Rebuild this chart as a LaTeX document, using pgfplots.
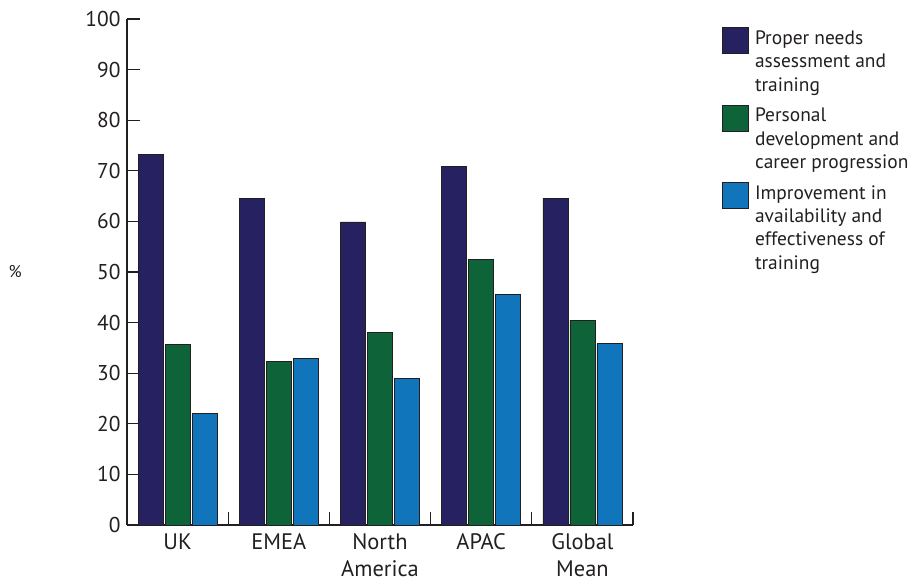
\documentclass[border=0pt]{standalone}
\usepackage{fontspec}
\setmainfont{PT Sans}
\usepackage{pgfplots}
\pgfplotsset{compat=1.18}
\definecolor{cNavy}{RGB}{38,34,98}
\definecolor{cGreen}{RGB}{14,100,56}
\definecolor{cBlue}{RGB}{17,117,188}
\definecolor{cEdge}{RGB}{35,31,32}
\begin{document}
\begin{tikzpicture}
\pgfplotsset{
  sq/.style={legend image code/.code={\draw[##1, line width=0.8bp] (0bp,8bp) rectangle (26bp,34bp);}},
  sqfour/.style={legend image code/.code={\draw[##1, line width=0.8bp] (0bp,19.5bp) rectangle (26bp,45.5bp);}},
}
\begin{axis}[
  at={(0,0)}, anchor=south west,
  scale only axis, width=506bp, height=506bp,
  ybar=2bp, bar width=25bp,
  xmin=-0.5, xmax=4.5, ymin=0, ymax=100,
  axis x line=bottom, axis y line=left,
  axis line style={-, line width=1.3bp, color=cEdge},
  xtick={0,1,2,3,4},
  xticklabels={UK, EMEA, North\\America, APAC, Global\\Mean},
  xticklabel style={align=center, font=\fontsize{22.5}{27}\selectfont, text=cEdge, yshift=-5bp},
  minor xtick={0.5,1.5,2.5,3.5,4.5},
  ytick={0,10,...,100},
  yticklabel style={font=\fontsize{21.5}{24}\selectfont, text=cEdge, xshift=-3bp},
  /pgf/number format/assume math mode=true,
  tick align=inside,
  major tick length=13bp, minor tick length=13bp,
  major x tick style={draw=none},
  minor x tick style={line width=1.3bp, color=cEdge},
  y tick style={line width=1.3bp, color=cEdge},
  ylabel={\%},
  ylabel style={rotate=-90, at={(axis description cs:-0.221,0.5)}, anchor=center, font=\fontsize{17}{20}\selectfont, text=cEdge},
  legend style={at={(axis description cs:1.176,0.984)}, anchor=north west, draw=none, inner sep=0pt,
    font=\fontsize{19.5}{23.5}\selectfont, text=cEdge, nodes={align=left}, row sep=10bp, column sep=4bp},
  legend cell align=left,
]
\addplot[sq, fill=cNavy, draw=cEdge, line width=0.8bp] coordinates {(0,73.2) (1,64.6) (2,59.9) (3,70.9) (4,64.6)};
\addplot[sq, fill=cGreen, draw=cEdge, line width=0.8bp] coordinates {(0,35.6) (1,32.4) (2,38.1) (3,52.5) (4,40.5)};
\addplot[sqfour, fill=cBlue, draw=cEdge, line width=0.8bp] coordinates {(0,22.1) (1,33.0) (2,28.9) (3,45.6) (4,35.8)};
\legend{Proper needs\\assessment and\\training, Personal\\development and\\career progression, Improvement in\\availability and\\effectiveness of\\training}
\end{axis}
\pgfresetboundingbox
\path (-127bp,-57bp) rectangle (786bp,525bp);
\end{tikzpicture}
\end{document}
